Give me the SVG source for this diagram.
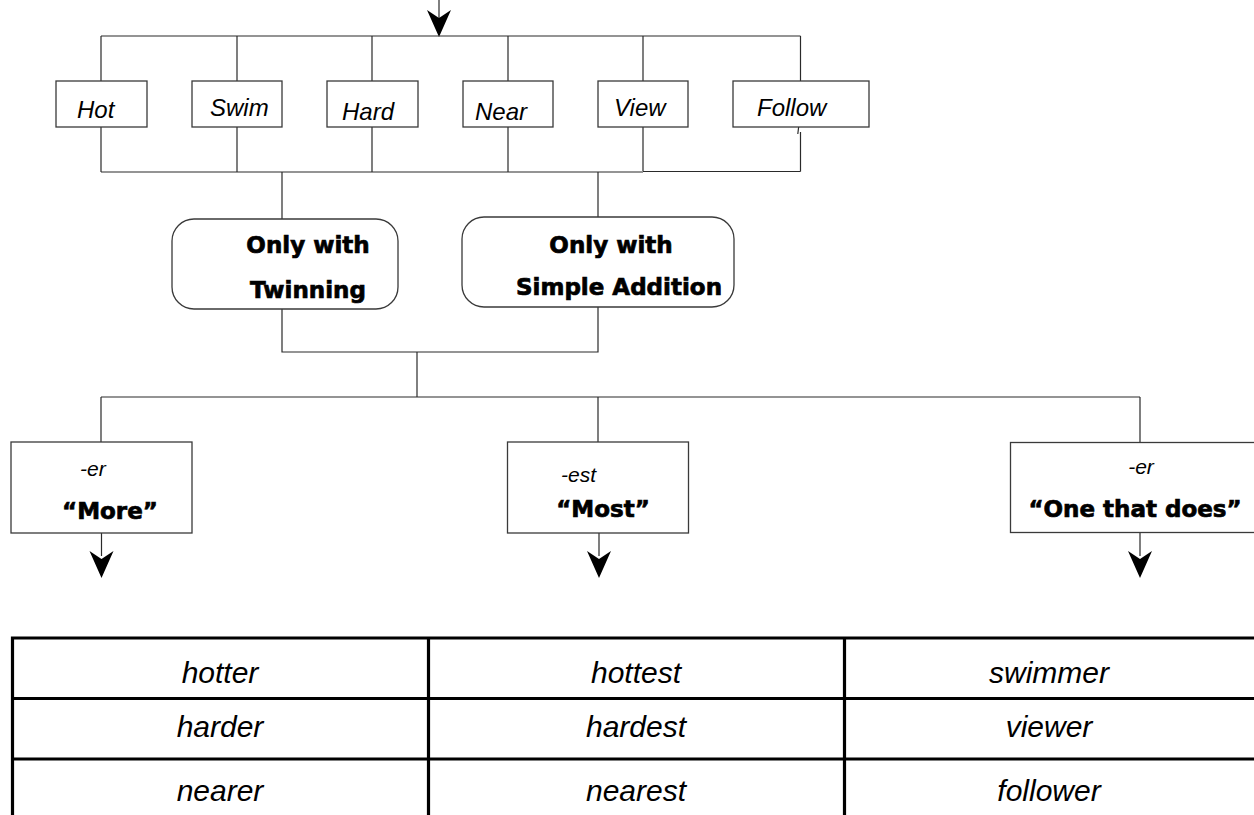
<svg xmlns="http://www.w3.org/2000/svg" width="1254" height="815" viewBox="0 0 1254 815">
  <style>
    .ln { stroke: #2a2a2a; stroke-width: 1.2; fill: none; }
    .box { fill: #fff; stroke: #3a3a3a; stroke-width: 1.3; }
    .it { font-family: "Liberation Sans", Arial, sans-serif; font-style: italic; fill: #000; }
    .bd { font-family: "DejaVu Sans", "Liberation Sans", sans-serif; font-weight: bold; font-size: 23px; fill: #000; stroke: #000; stroke-width: 0.7; }
    .word { font-size: 24px; }
    .suf { font-size: 21px; }
    .cell { font-size: 30px; text-anchor: middle; }
    .mid { text-anchor: middle; }
    .grid { stroke: #000; stroke-width: 3.2; fill: none; }
  </style>
  <defs>
    <path id="head" d="M0,0 L-12,-27 L0,-19 L12,-27 Z" fill="#000"/>
  </defs>

  <!-- connectors -->
  <g id="connectors">
    <path class="ln" d="M439,0 V20"/>
    <use href="#head" x="439" y="37"/>
    <path class="ln" d="M101,36 H800.5 M101,36 V81 M237,36 V81 M372,36 V81 M508,36 V81 M643,36 V81 M800.5,36 V81"/>
    <path class="ln" d="M101,127 V172 M237,127 V172 M372,127 V172 M508,127 V172 M643,127 V171"/>
    <path class="ln" d="M799,124 L797.8,134 M800.5,132 V171.5"/>
    <path class="ln" d="M101,172 H643 M643,171.5 H800.5"/>
    <path class="ln" d="M282,172 V219 M598,172 V217"/>
    <path class="ln" d="M282,309 V352 H598 V307"/>
    <path class="ln" d="M417,352 V397"/>
    <path class="ln" d="M101,397 H1140 M101,397 V442 M598,397 V442 M1140,397 V442"/>
    <path class="ln" d="M101.5,533 V556 M599,533 V556 M1140,533 V556"/>
    <use href="#head" x="101.5" y="578"/>
    <use href="#head" x="599" y="578"/>
    <use href="#head" x="1140" y="578"/>
  </g>

  <!-- word nodes -->
  <g id="hot">
    <rect class="box" x="56" y="81" width="91" height="46"/>
    <text class="it word" x="77" y="118">Hot</text>
  </g>
  <g id="swim">
    <rect class="box" x="192" y="81" width="90" height="46"/>
    <text class="it word" x="210" y="116">Swim</text>
  </g>
  <g id="hard">
    <rect class="box" x="327" y="81" width="91" height="46"/>
    <text class="it word" x="342" y="120">Hard</text>
  </g>
  <g id="near">
    <rect class="box" x="463" y="81" width="90" height="46"/>
    <text class="it word" x="475" y="120">Near</text>
  </g>
  <g id="view">
    <rect class="box" x="598" y="81" width="90" height="46"/>
    <text class="it word" x="614" y="116">View</text>
  </g>
  <g id="follow">
    <rect class="box" x="733" y="81" width="136" height="46"/>
    <text class="it word" x="757" y="116">Follow</text>
  </g>

  <!-- rule nodes -->
  <g id="twinning">
    <rect class="box" x="172" y="219" width="226" height="90" rx="22" ry="22"/>
    <text class="bd mid" x="308" y="253">Only with</text>
    <text class="bd mid" x="308" y="298">Twinning</text>
  </g>
  <g id="simple-addition">
    <rect class="box" x="462" y="217" width="272" height="90" rx="22" ry="22"/>
    <text class="bd mid" x="611" y="253">Only with</text>
    <text class="bd mid" x="619" y="295">Simple Addition</text>
  </g>

  <!-- suffix nodes -->
  <g id="more">
    <rect class="box" x="11" y="442" width="181" height="91"/>
    <text class="it suf" x="80" y="476">-er</text>
    <text class="bd mid" x="110" y="519">“More”</text>
  </g>
  <g id="most">
    <rect class="box" x="507.5" y="442" width="181" height="91"/>
    <text class="it suf" x="561" y="482">-est</text>
    <text class="bd mid" x="603" y="517">“Most”</text>
  </g>
  <g id="one-that-does">
    <rect class="box" x="1010.5" y="442.5" width="250" height="90"/>
    <text class="it suf mid" x="1141" y="474">-er</text>
    <text class="bd mid" x="1135" y="517">“One that does”</text>
  </g>

  <!-- results table -->
  <g id="results">
    <path class="grid" d="M11,638 H1254 M12.5,636.5 V815 M428.5,636.5 V815 M844.5,636.5 V815 M11,698.5 H1254 M11,759 H1254"/>
    <text class="it cell" x="220" y="683">hotter</text>
    <text class="it cell" x="636" y="683">hottest</text>
    <text class="it cell" x="1049" y="683">swimmer</text>
    <text class="it cell" x="220" y="737">harder</text>
    <text class="it cell" x="636" y="737">hardest</text>
    <text class="it cell" x="1049" y="737">viewer</text>
    <text class="it cell" x="220" y="801">nearer</text>
    <text class="it cell" x="636" y="801">nearest</text>
    <text class="it cell" x="1049" y="801">follower</text>
  </g>
</svg>
